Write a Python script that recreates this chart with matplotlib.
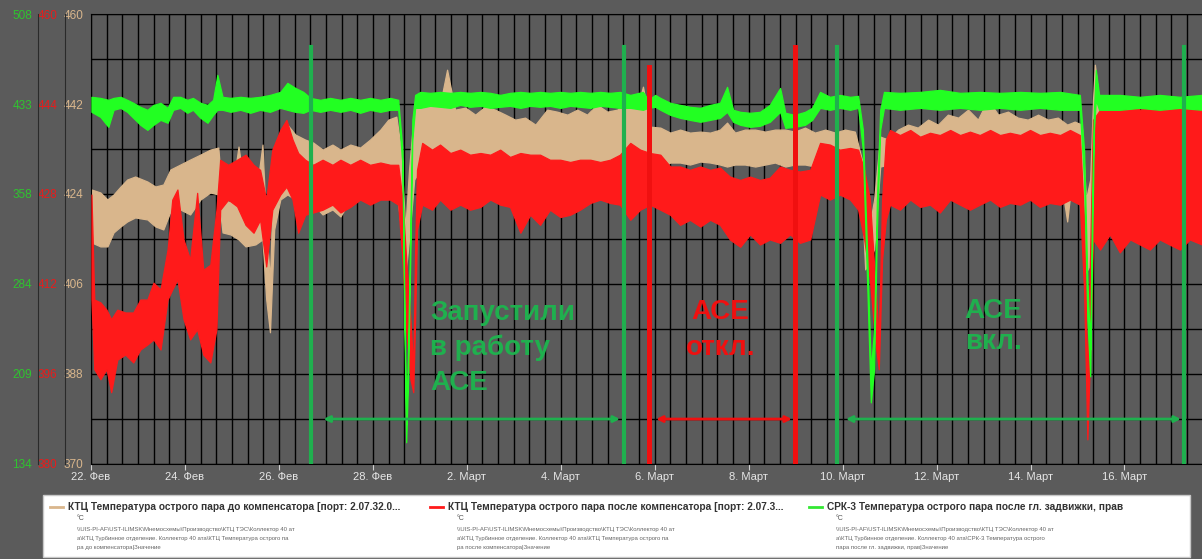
import numpy as np
import matplotlib.pyplot as plt
from matplotlib.lines import Line2D
from matplotlib.patches import Rectangle

plt.rcParams['font.family'] = ['Liberation Sans', 'DejaVu Sans']


# ============================================
# Data: days since 22 Feb, min / max of each trend (°C)
# ============================================

date_ticks = [0, 2, 4, 6, 8, 10, 12, 14, 16, 18, 20, 22]
date_labels = ["22. Фев", "24. Фев", "26. Фев", "28. Фев", "2. Март", "4. Март",
               "6. Март", "8. Март", "10. Март", "12. Март", "14. Март", "16. Март"]

# KTC before compensator (tan, scale 370..460)
t_before = [0.01, 0.20, 0.35, 0.48, 0.63, 0.77, 0.94, 1.20, 1.37, 1.54, 1.69, 1.90,
            2.11, 2.33, 2.54, 2.71, 2.80, 2.97, 3.14, 3.29, 3.50, 3.65, 3.73, 3.81,
            3.90, 4.03, 4.18, 4.35, 4.56, 4.73, 4.93, 5.14, 5.31, 5.52, 5.73, 5.94,
            6.16, 6.33, 6.50, 6.60, 6.69, 6.77, 6.88, 7.01, 7.22, 7.43, 7.58, 7.75,
            7.97, 8.18, 8.39, 8.60, 8.82, 9.03, 9.24, 9.46, 9.71, 9.92, 10.14, 10.35,
            10.56, 10.77, 10.99, 11.20, 11.41, 11.63, 11.75, 11.90, 12.12, 12.33, 12.54, 12.75,
            12.97, 13.18, 13.39, 13.54, 13.71, 13.92, 14.14, 14.35, 14.56, 14.78, 14.98, 15.20,
            15.41, 15.63, 15.84, 16.05, 16.26, 16.41, 16.48, 16.56, 16.67, 16.80, 16.97, 17.18,
            17.39, 17.60, 17.82, 18.03, 18.24, 18.46, 18.67, 18.88, 19.09, 19.31, 19.52, 19.73,
            19.94, 20.16, 20.37, 20.58, 20.78, 20.94, 21.09, 21.18, 21.27, 21.33, 21.37, 21.48,
            21.69, 21.90, 22.12, 22.33, 22.54, 22.75, 22.96, 23.18, 23.39, 23.65]
before_hi = [424.9, 424.3, 422.9, 423.9, 425.5, 426.9, 427.5, 426.5, 425.5, 425.9, 428.9, 429.9,
             430.9, 431.9, 432.9, 433.3, 422.9, 422.3, 433.5, 423.9, 422.9, 433.9, 416.9, 406.9,
             432.9, 436.3, 437.9, 435.9, 434.9, 434.3, 432.9, 433.9, 432.9, 433.9, 433.3, 434.9,
             436.9, 438.9, 439.5, 432.9, 416.9, 428.9, 440.9, 441.9, 442.3, 441.9, 448.9, 440.9,
             441.3, 439.9, 441.5, 440.9, 439.9, 438.9, 439.3, 437.9, 440.9, 440.5, 439.9, 440.9,
             439.9, 441.9, 440.5, 440.9, 442.3, 441.3, 445.5, 437.5, 437.3, 436.3, 436.9, 436.3,
             436.5, 436.3, 436.9, 438.3, 436.3, 436.9, 436.9, 436.5, 436.9, 436.9, 436.5, 437.3,
             436.3, 436.9, 436.3, 436.9, 436.5, 430.9, 418.9, 416.9, 422.9, 435.5, 434.9, 436.9,
             437.9, 437.3, 438.9, 437.9, 439.9, 439.3, 440.9, 438.9, 442.9, 439.9, 440.5, 439.3,
             438.9, 439.9, 438.9, 439.3, 437.9, 438.5, 437.9, 422.9, 426.9, 442.9, 449.9, 440.9,
             438.9, 437.9, 439.3, 437.9, 438.9, 437.9, 438.9, 437.9, 438.9, 437.9]
before_lo = [414.3, 413.5, 413.5, 416.3, 417.5, 418.5, 419.3, 418.9, 417.5, 416.9, 420.5, 420.9,
             419.9, 422.9, 424.3, 423.9, 416.3, 415.9, 414.9, 413.5, 413.9, 414.9, 402.9, 396.3,
             416.9, 422.9, 423.9, 422.9, 423.9, 421.9, 419.9, 420.9, 419.5, 422.9, 423.9, 424.9,
             425.9, 426.9, 425.5, 416.9, 407.5, 414.9, 426.9, 428.9, 430.9, 428.9, 429.9, 427.9,
             428.9, 427.5, 428.9, 428.3, 425.9, 425.5, 421.5, 425.5, 426.9, 428.3, 427.9, 426.9,
             422.9, 424.9, 423.9, 424.9, 428.9, 428.9, 429.9, 428.9, 429.3, 430.3, 430.3, 429.9,
             430.5, 430.3, 429.9, 429.5, 429.9, 429.9, 429.5, 429.9, 430.3, 429.5, 429.9, 429.9,
             429.5, 429.9, 429.5, 429.9, 429.5, 422.9, 408.9, 410.5, 412.9, 429.5, 429.9, 430.9,
             430.3, 430.9, 430.5, 430.9, 430.3, 431.3, 430.9, 430.9, 430.3, 431.3, 430.9, 431.3,
             430.9, 431.5, 431.3, 430.9, 418.5, 431.9, 431.3, 408.3, 409.9, 422.9, 438.9, 423.9,
             422.9, 421.9, 422.9, 421.5, 422.9, 421.9, 422.9, 421.9, 422.9, 421.9]

# KTC after compensator (red, scale 380..460)
t_after = [0.01, 0.07, 0.20, 0.33, 0.43, 0.56, 0.73, 0.90, 1.05, 1.20, 1.33, 1.48,
           1.63, 1.73, 1.84, 1.97, 2.11, 2.26, 2.39, 2.54, 2.67, 2.75, 2.92, 3.11,
           3.29, 3.46, 3.60, 3.73, 3.86, 4.03, 4.16, 4.29, 4.41, 4.56, 4.73, 4.93,
           5.14, 5.31, 5.52, 5.73, 5.94, 6.16, 6.37, 6.54, 6.63, 6.71, 6.80, 6.86,
           6.90, 6.94, 7.05, 7.26, 7.43, 7.65, 7.86, 8.07, 8.29, 8.50, 8.71, 8.92,
           9.14, 9.35, 9.56, 9.77, 9.99, 10.20, 10.41, 10.63, 10.84, 11.05, 11.26, 11.48,
           11.69, 11.90, 12.12, 12.33, 12.54, 12.75, 12.97, 13.18, 13.39, 13.60, 13.82, 14.03,
           14.24, 14.45, 14.67, 14.88, 15.09, 15.31, 15.52, 15.73, 15.94, 16.16, 16.33, 16.46,
           16.58, 16.69, 16.77, 16.84, 16.92, 17.01, 17.22, 17.44, 17.65, 17.86, 18.07, 18.29,
           18.50, 18.71, 18.92, 19.14, 19.35, 19.56, 19.78, 19.99, 20.20, 20.41, 20.63, 20.84,
           21.05, 21.14, 21.21, 21.27, 21.33, 21.48, 21.69, 21.90, 22.12, 22.33, 22.54, 22.75,
           22.96, 23.18, 23.39, 23.65]
after_hi = [427.9, 409.2, 408.7, 407.4, 405.7, 407.4, 406.9, 406.9, 409.2, 409.2, 412.2, 411.0,
            418.1, 427.0, 428.8, 419.9, 416.3, 428.2, 414.5, 415.4, 425.2, 434.1, 433.2, 434.1,
            435.0, 433.2, 432.3, 427.0, 435.9, 439.4, 441.2, 437.7, 435.3, 434.1, 433.2, 434.1,
            433.2, 434.1, 433.2, 434.1, 433.2, 433.6, 433.2, 433.2, 427.0, 416.3, 405.7, 396.8,
            418.1, 432.3, 437.1, 435.9, 436.8, 435.3, 435.9, 435.0, 435.3, 435.0, 435.9, 434.6,
            435.3, 435.0, 435.0, 434.1, 434.1, 433.7, 434.1, 434.1, 433.7, 434.1, 435.0, 437.1,
            435.9, 435.3, 435.0, 432.9, 432.9, 432.3, 432.9, 432.3, 432.7, 431.1, 430.5, 431.1,
            430.5, 430.9, 432.9, 432.3, 432.0, 432.3, 437.1, 436.8, 435.9, 436.2, 435.9, 432.3,
            427.0, 412.8, 402.1, 427.0, 437.7, 439.4, 438.5, 439.4, 438.2, 438.9, 438.5, 439.4,
            438.5, 439.1, 438.5, 439.4, 438.5, 438.9, 438.5, 439.4, 438.5, 438.9, 438.5, 439.4,
            438.5, 423.4, 395.0, 418.1, 441.2, 443.0, 443.5, 443.0, 443.9, 443.0, 443.3, 443.5,
            443.0, 443.9, 443.0, 443.3]
after_lo = [409.2, 396.8, 395.0, 396.8, 392.7, 398.5, 399.4, 398.0, 400.3, 401.2, 402.1, 400.3,
            409.2, 411.0, 412.8, 405.7, 402.1, 403.9, 399.4, 398.0, 403.9, 425.2, 427.0, 425.8,
            422.5, 421.1, 423.4, 415.1, 425.2, 427.9, 429.3, 427.0, 421.1, 424.3, 424.7, 425.2,
            426.1, 424.7, 425.7, 427.0, 426.1, 427.0, 427.0, 426.1, 416.3, 403.9, 395.0, 392.7,
            405.7, 421.6, 426.1, 425.2, 427.0, 425.2, 426.1, 425.2, 425.7, 427.0, 426.1, 425.7,
            421.1, 424.3, 422.5, 425.2, 423.9, 424.3, 425.2, 426.4, 427.0, 426.4, 426.1, 423.4,
            425.2, 426.1, 425.2, 424.3, 422.5, 423.4, 422.2, 423.4, 422.5, 419.9, 418.6, 420.8,
            419.0, 419.9, 419.3, 420.8, 419.3, 419.9, 427.9, 427.0, 427.9, 427.0, 425.2, 419.9,
            412.8, 402.1, 396.8, 416.3, 423.4, 426.1, 425.2, 427.0, 425.7, 426.1, 424.7, 427.0,
            426.1, 425.2, 426.1, 427.0, 425.7, 426.4, 426.1, 427.0, 425.7, 426.4, 426.1, 427.0,
            426.1, 411.0, 384.3, 400.3, 419.9, 418.1, 420.8, 417.6, 419.9, 419.0, 418.1, 419.9,
            419.0, 418.1, 419.9, 419.0]

# SRK-3 after main valve (green, scale 134..508)
t_valve = [0.01, 0.20, 0.37, 0.48, 0.63, 0.77, 0.90, 1.05, 1.20, 1.33, 1.48, 1.63,
           1.75, 1.90, 2.05, 2.17, 2.33, 2.48, 2.60, 2.69, 2.80, 2.97, 3.18, 3.39,
           3.60, 3.81, 4.03, 4.18, 4.35, 4.52, 4.67, 4.88, 5.09, 5.31, 5.52, 5.73,
           5.94, 6.16, 6.37, 6.54, 6.63, 6.67, 6.71, 6.75, 6.80, 6.84, 6.90, 7.01,
           7.22, 7.43, 7.65, 7.86, 8.07, 8.29, 8.50, 8.71, 8.92, 9.14, 9.35, 9.56,
           9.77, 9.99, 10.20, 10.41, 10.63, 10.84, 11.05, 11.26, 11.48, 11.75, 11.86, 12.01,
           12.12, 12.33, 12.54, 12.75, 12.97, 13.18, 13.39, 13.54, 13.67, 13.82, 14.03, 14.24,
           14.45, 14.67, 14.78, 14.98, 15.20, 15.35, 15.52, 15.73, 15.94, 16.16, 16.33, 16.43,
           16.52, 16.60, 16.67, 16.73, 16.80, 16.88, 17.22, 17.65, 18.07, 18.50, 18.92, 19.35,
           19.78, 20.20, 20.63, 21.05, 21.14, 21.21, 21.27, 21.31, 21.35, 21.39, 21.46, 21.90,
           22.33, 22.75, 23.18, 23.65]
valve_hi = [439.3, 438.4, 436.8, 438.4, 439.3, 436.8, 434.3, 431.0, 428.5, 432.6, 434.3, 430.1,
            439.3, 439.3, 436.8, 438.4, 434.3, 432.6, 436.8, 457.6, 439.3, 438.4, 439.3, 438.4,
            439.3, 440.9, 443.4, 450.9, 446.7, 443.4, 438.4, 436.8, 438.4, 436.8, 438.4, 436.8,
            438.4, 436.8, 438.4, 436.8, 395.2, 270.6, 166.7, 229.0, 337.0, 420.1, 440.9, 443.4,
            442.6, 443.4, 442.6, 443.4, 442.6, 443.4, 442.6, 440.9, 442.6, 443.4, 442.6, 443.4,
            442.6, 443.4, 442.6, 443.4, 442.6, 443.4, 442.6, 443.4, 440.9, 443.4, 436.8, 440.9,
            438.4, 434.3, 432.6, 431.0, 430.1, 432.6, 434.3, 447.6, 428.5, 426.8, 426.0, 426.8,
            432.6, 446.7, 426.0, 424.3, 426.8, 430.1, 443.4, 439.3, 440.9, 439.3, 440.1, 412.0,
            312.1, 212.4, 245.6, 353.7, 428.5, 443.4, 442.6, 443.4, 445.1, 442.6, 443.4, 442.6,
            443.4, 442.6, 443.4, 440.9, 395.2, 287.2, 229.0, 353.7, 428.5, 461.7, 440.9, 440.9,
            439.3, 440.9, 439.3, 440.9]
valve_lo = [426.8, 422.6, 414.3, 428.5, 430.1, 426.8, 421.8, 416.0, 411.8, 416.0, 420.1, 417.7,
            428.5, 430.1, 426.0, 428.5, 421.8, 417.7, 424.3, 428.5, 428.5, 426.8, 428.5, 426.0,
            428.5, 426.8, 430.1, 428.5, 426.8, 426.0, 428.5, 426.8, 428.5, 426.8, 428.5, 426.0,
            428.5, 426.8, 428.5, 428.5, 382.7, 253.9, 151.7, 204.1, 312.1, 403.5, 430.1, 430.1,
            431.8, 431.0, 430.1, 432.6, 431.0, 431.8, 430.1, 431.0, 431.8, 430.1, 431.8, 431.0,
            431.8, 430.1, 431.8, 431.0, 430.1, 431.8, 431.0, 430.1, 430.1, 428.5, 430.1, 431.0,
            428.5, 424.3, 421.8, 420.1, 418.5, 420.1, 421.8, 426.8, 418.5, 416.0, 414.3, 415.2,
            418.5, 426.8, 413.5, 414.3, 416.0, 420.1, 430.1, 428.5, 430.1, 428.5, 430.1, 395.2,
            287.2, 184.9, 212.4, 328.7, 411.8, 430.1, 428.5, 430.1, 428.5, 430.1, 428.5, 430.1,
            428.5, 430.1, 428.5, 428.5, 370.2, 254.0, 206.6, 312.1, 411.8, 436.8, 428.5, 428.5,
            430.1, 428.5, 430.1, 428.5]

# axis scales as shown on the left
tan_ticks = [370, 388, 406, 424, 442, 460]
red_ticks = [380, 396, 412, 428, 444, 460]
green_ticks = [134, 208.8, 283.6, 358.4, 433.2, 508]
green_labels = ["134", "209", "284", "358", "433", "508"]

# ACE on/off marks (days)
ace_green_days = [4.69, 11.34, 15.87, 23.26]
ace_red_days = [11.87, 14.99]

legend_titles = [
    "КТЦ Температура острого пара до компенсатора [порт: 2.07.32.0...",
    "КТЦ Температура острого пара после компенсатора [порт: 2.07.3...",
    "СРК-3 Температура острого пара после гл. задвижки, прав",
]
legend_paths = [
    ["\\\\UIS-PI-AF\\UST-ILIMSK\\Мнемосхемы\\Производство\\КТЦ ТЭС\\Коллектор 40 ат",
     "а\\КТЦ Турбинное отделение. Коллектор 40 ата\\КТЦ Температура острого па",
     "ра до компенсатора|Значение"],
    ["\\\\UIS-PI-AF\\UST-ILIMSK\\Мнемосхемы\\Производство\\КТЦ ТЭС\\Коллектор 40 ат",
     "а\\КТЦ Турбинное отделение. Коллектор 40 ата\\КТЦ Температура острого па",
     "ра после компенсатора|Значение"],
    ["\\\\UIS-PI-AF\\UST-ILIMSK\\Мнемосхемы\\Производство\\КТЦ ТЭС\\Коллектор 40 ат",
     "а\\КТЦ Турбинное отделение. Коллектор 40 ата\\СРК-3 Температура острого",
     "пара после гл. задвижки, прав|Значение"],
]


# ============================================
# Colours
# ============================================

BG = "#5b5b5b"
TAN = "#d9b68c"
RED = "#ff1a1a"
GREEN = "#22ff22"
MARK_GREEN = "#1fb04e"
MARK_RED = "#f01010"


def draw_band(ax, t, hi, lo, color):
    ax.fill_between(t, lo, hi, facecolor=color, edgecolor=color, linewidth=0.9)


def left_scale(ax, ticks, labels, color, offset, pad):
    ax.yaxis.tick_left()
    ax.set_yticks(ticks)
    ax.set_yticklabels(labels)
    ax.tick_params(axis="y", length=0, pad=pad, labelcolor=color, labelsize=8.5)
    for side in ["top", "right", "bottom"]:
        ax.spines[side].set_visible(False)
    ax.spines["left"].set_position(("outward", offset))
    ax.spines["left"].set_color("#2a2a2a")


# ============================================
# Trend
# ============================================

fig = plt.figure(figsize=(12.02, 5.59), dpi=100, facecolor=BG)

ax = fig.add_axes([0.0757, 0.1708, 0.9243, 0.8036])
ax.set_facecolor(BG)
ax.set_xlim(0, 23.65)
ax.set_ylim(370, 460)

ax.set_xticks(date_ticks)
ax.set_xticklabels(date_labels)
ax.set_xticks(np.arange(0, 23.65, 1 / 3), minor=True)
ax.set_yticks(tan_ticks)
ax.set_yticks([379, 397, 415, 433, 451], minor=True)
ax.grid(True, which="both", color="black", linewidth=1)
ax.set_axisbelow(True)
ax.tick_params(axis="x", which="major", length=4, color="#d0d0d0",
               labelcolor="#e6e6e6", labelsize=8, pad=2)
ax.tick_params(axis="x", which="minor", length=0)
ax.tick_params(axis="y", which="both", length=0, pad=5.5,
               labelcolor=TAN, labelsize=8.5)
for side in ["top", "bottom", "left"]:
    ax.spines[side].set_color("black")
ax.spines["right"].set_visible(False)

draw_band(ax, t_before, before_hi, before_lo, TAN)

ax_r = ax.twinx()
ax_r.set_ylim(380, 460)
left_scale(ax_r, red_ticks, [str(v) for v in red_ticks], "#e81c1c", 18.7, 5.5)
draw_band(ax_r, t_after, after_hi, after_lo, RED)

ax_g = ax.twinx()
ax_g.set_ylim(134, 508)
left_scale(ax_g, green_ticks, green_labels, "#2fc42f", 38.2, 4.3)
draw_band(ax_g, t_valve, valve_hi, valve_lo, GREEN)


# ============================================
# ACE marks and notes
# ============================================

for d in ace_green_days:
    ax_g.axvline(d, ymin=0, ymax=0.927, color=MARK_GREEN, linewidth=3)
ax_g.axvline(ace_red_days[0], ymin=0, ymax=0.883, color=MARK_RED, linewidth=3.6)
ax_g.axvline(ace_red_days[1], ymin=0, ymax=0.927, color=MARK_RED, linewidth=3.6)

trans = ax_g.get_xaxis_transform()
arrows = [(4.95, 11.26, MARK_GREEN), (12.03, 14.92, MARK_RED), (16.07, 23.2, MARK_GREEN)]
for x1, x2, c in arrows:
    ax_g.annotate("", xy=(x2, 0.099), xytext=(x1, 0.099), xycoords=trans,
                  arrowprops=dict(arrowstyle="<|-|>", color=c, lw=2,
                                  mutation_scale=9, shrinkA=0, shrinkB=0))

ax_g.text(7.22, 0.257, "Запустили\nв работу\nАСЕ", transform=trans, color=MARK_GREEN,
          fontsize=20, fontweight="bold", ha="left", va="center", linespacing=1.42)
ax_g.text(13.4, 0.297, "АСЕ\nоткл.", transform=trans, color=MARK_RED,
          fontsize=20, fontweight="bold", ha="center", va="center", linespacing=1.5)
ax_g.text(18.6, 0.306, "АСЕ\nвкл.", transform=trans, color=MARK_GREEN,
          fontsize=20, fontweight="bold", ha="left", va="center", linespacing=1.25)


# ============================================
# Legend box
# ============================================

W, H = 1202.0, 559.0
fig.patches.append(Rectangle((43 / W, 1 - 557 / H), (1190 - 43) / W, (557 - 495) / H,
                             transform=fig.transFigure, facecolor="white",
                             edgecolor="#c8c8c8", linewidth=1))

entry_x = [50, 430, 809]
entry_colors = [TAN, RED, "#33e833"]
for x0, c, title, paths in zip(entry_x, entry_colors, legend_titles, legend_paths):
    fig.lines.append(Line2D([x0 / W, (x0 + 13) / W], [1 - 507 / H, 1 - 507 / H],
                            transform=fig.transFigure, color=c, linewidth=2))
    fig.text((x0 + 18) / W, 1 - 507 / H, title, fontsize=7.3, fontweight="bold",
             color="#333333", va="center")
    fig.text((x0 + 27) / W, 1 - 519 / H, "°C", fontsize=5, color="#555555", va="center")
    for i, line in enumerate(paths):
        fig.text((x0 + 27) / W, 1 - (529 + 9.5 * i) / H, line, fontsize=4.3,
                 color="#666666", va="center")

fig.savefig("out.png", dpi=100, facecolor=fig.get_facecolor())
